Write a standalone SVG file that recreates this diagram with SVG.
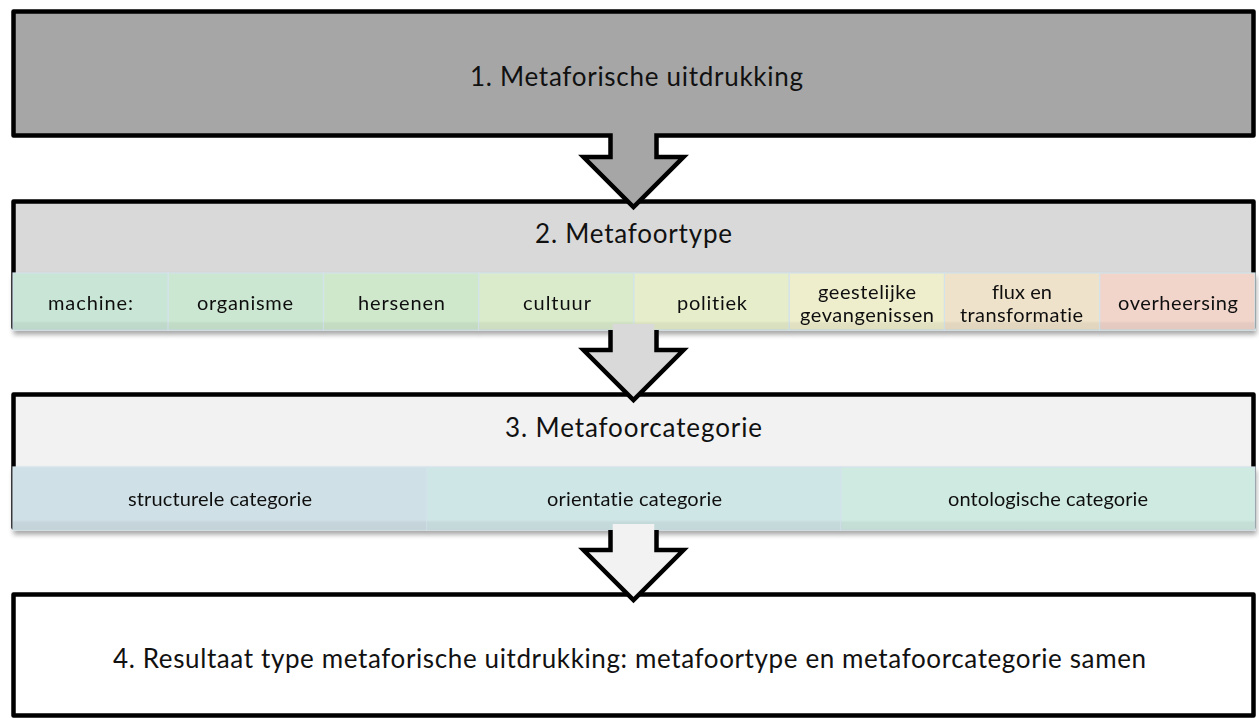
<svg xmlns="http://www.w3.org/2000/svg" width="1259" height="718" viewBox="0 0 1259 718">
  <defs>
    <filter id="shadow" x="-5%" y="-30%" width="110%" height="180%">
      <feGaussianBlur in="SourceAlpha" stdDeviation="2.5"/>
      <feOffset dx="1" dy="4" result="b"/>
      <feComponentTransfer><feFuncA type="linear" slope="0.35"/></feComponentTransfer>
      <feMerge><feMergeNode/><feMergeNode in="SourceGraphic"/></feMerge>
    </filter>
    <linearGradient id="band" x1="0" y1="0" x2="0" y2="1">
      <stop offset="0" stop-color="#000" stop-opacity="0"/>
      <stop offset="0.84" stop-color="#000" stop-opacity="0"/>
      <stop offset="0.88" stop-color="#000" stop-opacity="0.05"/>
      <stop offset="1" stop-color="#000" stop-opacity="0.06"/>
    </linearGradient>
  </defs>
  <style>
    .box { stroke: #000; stroke-width: 4.5; stroke-linejoin: round; }
    .arrow { stroke: #000; stroke-width: 4.5; stroke-linejoin: miter; }
    text { font-variant-ligatures: none; font-feature-settings: "liga" 0; }
    .title { font-family: Lato, "Liberation Sans", sans-serif; font-size: 26px; fill: #111; text-anchor: middle; dominant-baseline: central; }
    .cell rect.bg { stroke: #d3e3ea; stroke-width: 1.2; }
    .cell rect.shade { fill: url(#band); }
    .cell text { font-family: Lato, "Liberation Sans", sans-serif; font-size: 20px; fill: #111; text-anchor: middle; dominant-baseline: central; }
  </style>

  <rect width="1259" height="718" fill="#fff"/>

  <!-- step 1 -->
  <g id="step1">
    <rect class="box" x="13.5" y="11.5" width="1240" height="124" fill="#a6a6a6"/>
    <text class="title" x="636.5" y="76" textLength="333" lengthAdjust="spacing">1. Metaforische uitdrukking</text>
  </g>

  <!-- step 2 -->
  <g id="step2">
    <rect class="box" x="13.5" y="201.5" width="1240" height="126" fill="#d9d9d9"/>
    <text class="title" x="633.5" y="233" textLength="197" lengthAdjust="spacing">2. Metafoortype</text>
    <g filter="url(#shadow)">
      <g class="cell" id="t-machine">
        <rect class="bg" x="13" y="273" width="155.25" height="57" fill="#c9e5d6"/>
        <rect class="shade" x="13" y="273" width="155.25" height="57"/>
        <text x="90.5" y="302" textLength="85" lengthAdjust="spacing">machine:</text>
      </g>
      <g class="cell" id="t-organisme">
        <rect class="bg" x="168.25" y="273" width="155.25" height="57" fill="#cbe7d1"/>
        <rect class="shade" x="168.25" y="273" width="155.25" height="57"/>
        <text x="245" y="302" textLength="96" lengthAdjust="spacing">organisme</text>
      </g>
      <g class="cell" id="t-hersenen">
        <rect class="bg" x="323.5" y="273" width="155.25" height="57" fill="#cfe8cc"/>
        <rect class="shade" x="323.5" y="273" width="155.25" height="57"/>
        <text x="401.5" y="302" textLength="87" lengthAdjust="spacing">hersenen</text>
      </g>
      <g class="cell" id="t-cultuur">
        <rect class="bg" x="478.75" y="273" width="155.25" height="57" fill="#daebcb"/>
        <rect class="shade" x="478.75" y="273" width="155.25" height="57"/>
        <text x="557" y="302" textLength="68" lengthAdjust="spacing">cultuur</text>
      </g>
      <g class="cell" id="t-politiek">
        <rect class="bg" x="634" y="273" width="155.25" height="57" fill="#e5edca"/>
        <rect class="shade" x="634" y="273" width="155.25" height="57"/>
        <text x="712" y="302" textLength="70" lengthAdjust="spacing">politiek</text>
      </g>
      <g class="cell" id="t-geestelijke">
        <rect class="bg" x="789.25" y="273" width="155.25" height="57" fill="#eeeecd"/>
        <rect class="shade" x="789.25" y="273" width="155.25" height="57"/>
        <text x="867" y="291" textLength="98" lengthAdjust="spacing">geestelijke</text>
        <text x="867" y="314" textLength="134" lengthAdjust="spacing">gevangenissen</text>
      </g>
      <g class="cell" id="t-flux">
        <rect class="bg" x="944.5" y="273" width="155.25" height="57" fill="#efe2ca"/>
        <rect class="shade" x="944.5" y="273" width="155.25" height="57"/>
        <text x="1022" y="291" textLength="60" lengthAdjust="spacing">flux en</text>
        <text x="1021.5" y="314" textLength="123" lengthAdjust="spacing">transformatie</text>
      </g>
      <g class="cell" id="t-overheersing">
        <rect class="bg" x="1099.75" y="273" width="155.25" height="57" fill="#f1d5cb"/>
        <rect class="shade" x="1099.75" y="273" width="155.25" height="57"/>
        <text x="1178" y="302" textLength="120" lengthAdjust="spacing">overheersing</text>
      </g>
    </g>
  </g>

  <!-- step 3 -->
  <g id="step3">
    <rect class="box" x="13.5" y="394.5" width="1240" height="133" fill="#f2f2f2"/>
    <text class="title" x="633.5" y="427" textLength="257" lengthAdjust="spacing">3. Metafoorcategorie</text>
    <g filter="url(#shadow)">
      <g class="cell" id="c-structureel">
        <rect class="bg" x="13" y="467" width="414" height="63" fill="#cfe0e6"/>
        <rect class="shade" x="13" y="467" width="414" height="63"/>
        <text x="220" y="498" textLength="184" lengthAdjust="spacing">structurele categorie</text>
      </g>
      <g class="cell" id="c-orientatie">
        <rect class="bg" x="427" y="467" width="414" height="63" fill="#cfe6e6"/>
        <rect class="shade" x="427" y="467" width="414" height="63"/>
        <text x="634.5" y="498" textLength="175" lengthAdjust="spacing">orientatie categorie</text>
      </g>
      <g class="cell" id="c-ontologisch">
        <rect class="bg" x="841" y="467" width="414" height="63" fill="#cfebe1"/>
        <rect class="shade" x="841" y="467" width="414" height="63"/>
        <text x="1048" y="498" textLength="200" lengthAdjust="spacing">ontologische categorie</text>
      </g>
    </g>
  </g>

  <!-- step 4 -->
  <g id="step4">
    <rect class="box" x="13.5" y="594.5" width="1240" height="121" fill="#fff"/>
    <text class="title" x="629.5" y="658" textLength="1033" lengthAdjust="spacing">4. Resultaat type metaforische uitdrukking: metafoortype en metafoorcategorie samen</text>
  </g>

  <!-- connectors: block arrows between the steps, drawn over the step edges -->
  <g id="connectors">
    <rect x="612.75" y="131" width="41.5" height="8" fill="#a6a6a6"/>
    <path class="arrow" fill="#a6a6a6" d="M610.5,135 V157 H583.5 L633.5,207 L683.5,157 H656.5 V135"/>
    <rect x="612.75" y="324" width="41.5" height="8" fill="#d9d9d9"/>
    <path class="arrow" fill="#d9d9d9" d="M610.5,330 V350 H583.5 L633.5,400 L683.5,350 H656.5 V330"/>
    <rect x="612.75" y="524" width="41.5" height="8" fill="#f2f2f2"/>
    <path class="arrow" fill="#f2f2f2" d="M610.5,530 V550 H583.5 L633.5,600 L683.5,550 H656.5 V530"/>
  </g>
</svg>
